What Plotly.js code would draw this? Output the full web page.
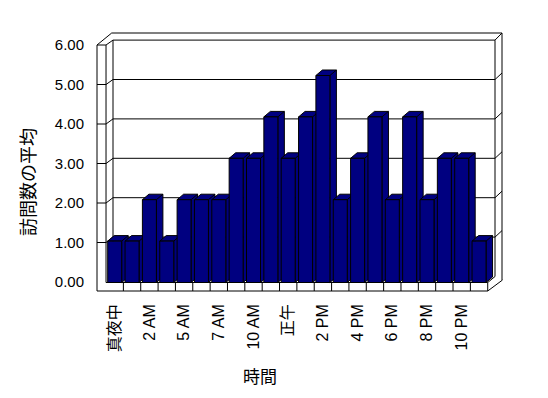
<!DOCTYPE html>
<html>
<head>
<meta charset="utf-8">
<script src="https://cdn.plot.ly/plotly-3.0.1.min.js"></script>
<style>html,body{margin:0;padding:0;background:#fff;}#chart{width:548px;height:398px;}</style>
</head>
<body>
<div id="chart"></div>
<script>
// ---- data ----
const hours = ['真夜中','1 AM','2 AM','4 AM','5 AM','6 AM','7 AM','8 AM','10 AM','11 AM','正午',
               '1 PM','2 PM','3 PM','4 PM','5 PM','6 PM','7 PM','8 PM','9 PM','10 PM','11 PM'];
const avgVisits = [1,1,2,1,2,2,2,3,3,4,3,4,5,2,3,4,2,4,2,3,3,1];
const yTickValues = [0,1,2,3,4,5,6];
const shownHourLabels = hours.filter((h, i) => i % 2 === 0);
const xTitle = '時間';
const yTitle = '訪問数の平均';

// ---- geometry (pixels) ----
const W = 548, H = 398;
const L = 97, R = 502, T = 33, B = 291;           // plot area
const slot = 17.35, c0 = 114.7;                    // px per category, centre of first category
const yk = 41.4, y0 = 282.5;                       // bar scale
const lk = 39.5, l0 = 282;                         // label (front wall) scale
const bk = 39.4, b0 = 276.5;                       // back wall scale
const depthX = 6.5, depthY = 5.5;
const navy = '#000080';
const FONT = '"Liberation Sans", Arial, "Noto Sans CJK JP", sans-serif';

const px = x => (x - L) / (R - L);
const py = y => (B - y) / (B - T);
const xr0 = -(c0 - L) / slot, xr1 = xr0 + (R - L) / slot;
const yr0 = -(B - y0) / yk, yr1 = yr0 + (B - T) / yk;
const lr0 = -(B - l0) / lk, lr1 = lr0 + (B - T) / lk;
const catX = i => c0 + slot * i;
const lineStyle = {color: '#000', width: 1};

const shapes = [];
function seg(x0, y0_, x1, y1) {
  shapes.push({type: 'line', xref: 'paper', yref: 'paper', layer: 'below',
    x0: px(x0), y0: py(y0_), x1: px(x1), y1: py(y1), line: lineStyle});
}
const wallIn = catX(-0.5), floorEnd = catX(hours.length - 0.5);
const backL = 113, backR = 495, outerTop = 33, outerR = 502;
const yl = v => l0 - lk * v, yb = v => b0 - bk * v;
const topV = yTickValues[yTickValues.length - 1];
// left wall
seg(L, yl(topV) , L, B);
seg(wallIn, yl(topV), wallIn, y0);
seg(L, yl(topV), wallIn, yl(topV));
seg(L, yl(topV), 111.7, outerTop);
seg(wallIn, yl(topV), backL, yb(topV));
// top and back wall frame
seg(111.7, outerTop, outerR, outerTop);
seg(backL, yb(topV), backR, yb(topV));
seg(backL, yb(topV), backL, b0);
seg(backR, yb(topV), backR, b0);
seg(outerR, outerTop, outerR, 280);
seg(backR, yb(topV), outerR, outerTop);
// gridlines
yTickValues.forEach(v => {
  if (v === 0 || v === topV) return;
  seg(L, yl(v), wallIn, yl(v));
  seg(wallIn, yl(v), backL, yb(v));
  seg(backL, yb(v), backR, yb(v));
  seg(backR, yb(v), outerR, yb(v) - 6.5);
});
// floor
seg(wallIn, y0, floorEnd, y0);
seg(L, B, floorEnd, B);
seg(floorEnd, y0, backR, b0);
seg(floorEnd, B, outerR + 0.5, 280);
hours.forEach((h, i) => {
  shapes.push({type: 'line', xref: 'x', yref: 'paper', layer: 'below',
    x0: i + 0.5, x1: i + 0.5, y0: py(y0), y1: py(B), line: lineStyle});
});
// 3D side + top faces of bars
const bw = 14 / slot, dx = depthX / slot, dy = depthY / yk;
avgVisits.forEach((v, i) => {
  const a = i - bw / 2, b = i + bw / 2;
  const path = `M ${a},${v} L ${a + dx},${v + dy} L ${b + dx},${v + dy} L ${b + dx},${dy} L ${b},0 L ${b},${v} Z M ${b},${v} L ${b + dx},${v + dy}`;
  shapes.push({type: 'path', xref: 'x', yref: 'y', layer: 'below', path: path,
    fillcolor: navy, line: lineStyle});
});

const data = [
  {type: 'bar', x: hours, y: avgVisits, width: bw,
   marker: {color: navy, line: {color: '#000', width: 1}},
   hoverinfo: 'x+y', showlegend: false},
  {type: 'scatter', x: [hours[0]], y: [0], yaxis: 'y2', mode: 'markers',
   marker: {opacity: 0}, hoverinfo: 'skip', showlegend: false}
];

const layout = {
  width: W, height: H,
  margin: {l: L, r: W - R, t: T, b: H - B, pad: 0},
  paper_bgcolor: '#fff', plot_bgcolor: 'rgba(0,0,0,0)',
  font: {family: FONT, size: 14, color: '#000'},
  showlegend: false,
  bargap: 0,
  xaxis: {type: 'category', range: [xr0, xr1], fixedrange: true,
    showgrid: false, zeroline: false, showline: false, ticks: '',
    tickvals: shownHourLabels, ticktext: shownHourLabels,
    tickangle: -90, ticklabelstandoff: 9,
    tickfont: {family: FONT, size: 16, color: '#000'}},
  yaxis: {range: [yr0, yr1], visible: false, fixedrange: true},
  yaxis2: {overlaying: 'y', side: 'left', anchor: 'x', range: [lr0, lr1],
    showgrid: false, zeroline: false, showline: false, ticks: '',
    tickvals: yTickValues, tickformat: '.2f', ticklabelstandoff: 12,
    tickfont: {family: FONT, size: 15, color: '#000'}, fixedrange: true},
  shapes: shapes,
  annotations: [
    {text: xTitle, xref: 'paper', yref: 'paper', x: px(260), y: py(377),
     xanchor: 'center', yanchor: 'middle', showarrow: false,
     font: {family: FONT, size: 17, color: '#000'}},
    {text: yTitle, xref: 'paper', yref: 'paper', x: px(29), y: py(182),
     xanchor: 'center', yanchor: 'middle', showarrow: false, textangle: -90,
     font: {family: FONT, size: 18, color: '#000'}}
  ]
};

Plotly.newPlot('chart', data, layout, {staticPlot: true, displayModeBar: false});
</script>
</body>
</html>
